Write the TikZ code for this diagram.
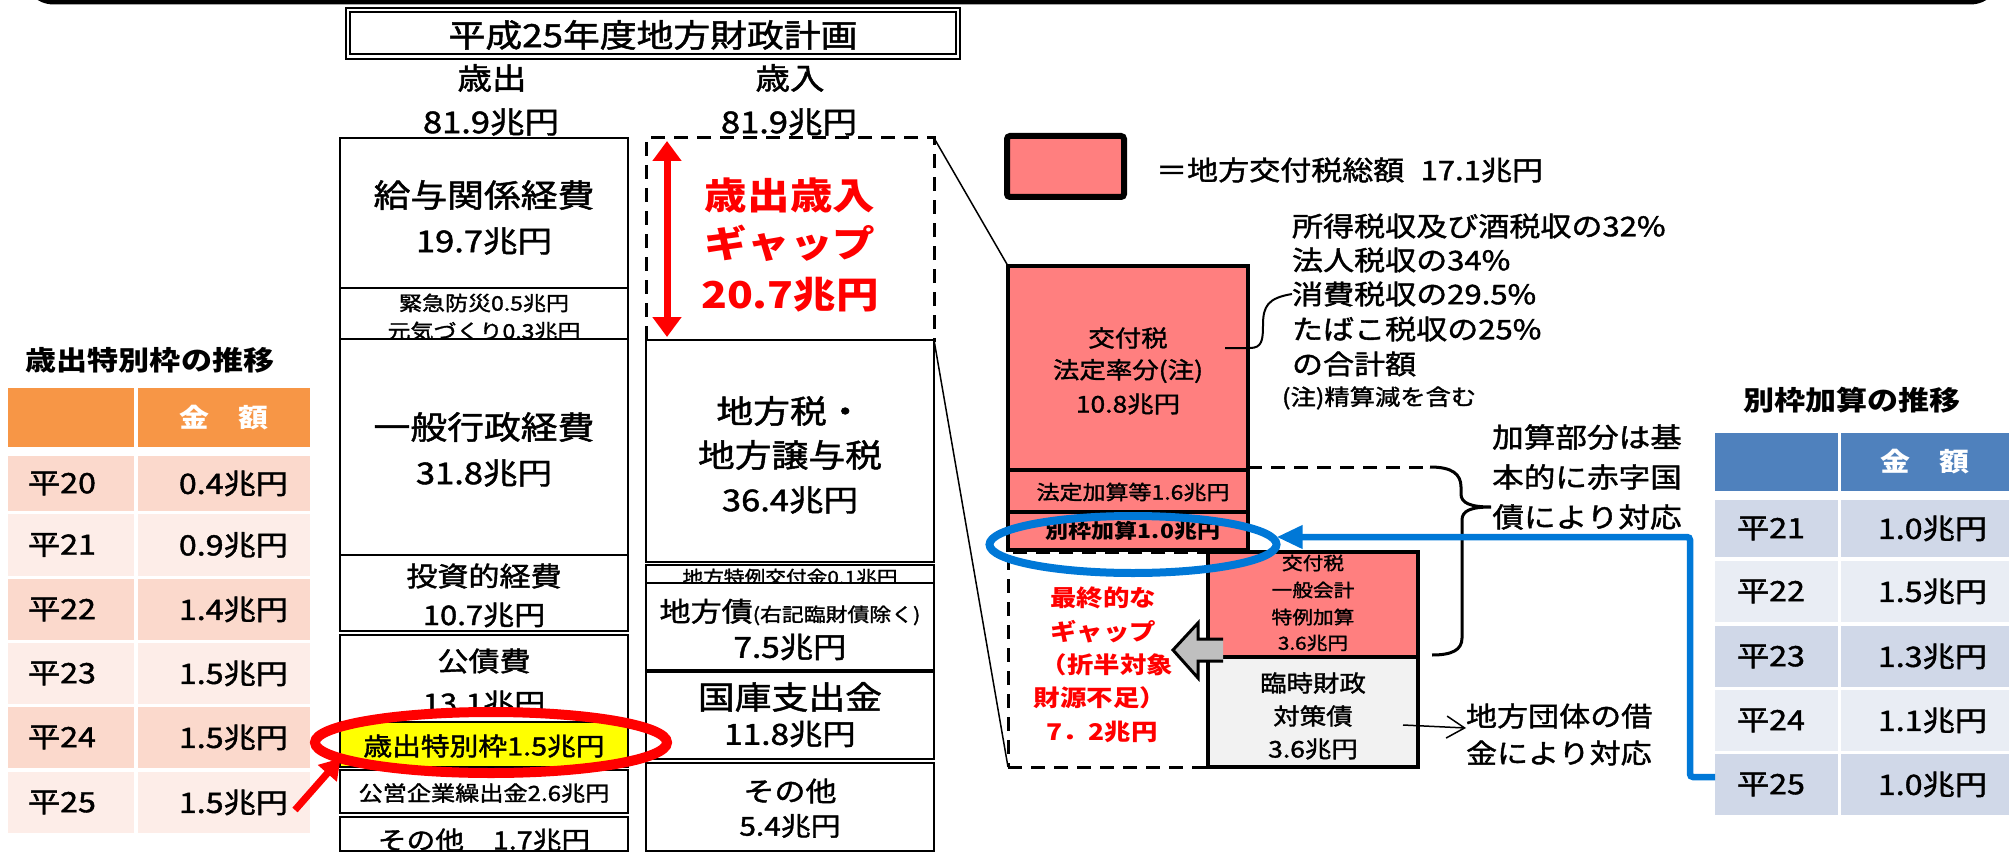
\documentclass[tikz,border=0pt]{standalone}
\usepackage{fontspec}
\setmainfont{Noto Sans CJK JP}[FakeStretch=1.15,UprightFeatures={FakeBold=1.5}]
\usetikzlibrary{arrows.meta,shapes.geometric}
\definecolor{salmon}{HTML}{FF7F7F}
\definecolor{hdrorange}{HTML}{F79646}
\definecolor{rowordark}{HTML}{FBD9CC}
\definecolor{roworlight}{HTML}{FDEDE8}
\definecolor{hdrblue}{HTML}{4F81BD}
\definecolor{rowbldark}{HTML}{D0D8E8}
\definecolor{rowbllight}{HTML}{E9EDF4}
\definecolor{paleg}{HTML}{F2F2F2}
\definecolor{arrgray}{HTML}{BFBFBF}
\definecolor{linkblue}{HTML}{0078D7}
\definecolor{gapred}{HTML}{FF0000}
\definecolor{hiyellow}{HTML}{FFFF00}
\newcommand{\fz}[1]{\fontsize{#1}{#1}\selectfont}
\newcommand{\mkbox}[6]{\node[#2,anchor=north west,minimum width={#5-#3},minimum height={#6-#4}] (#1) at (#3,#4) {};}
\begin{document}
\begin{tikzpicture}[x=1pt,y=-1pt,
  cell/.style={draw=black,line width=2.5pt,fill=white,inner sep=0pt,outer sep=0pt},
  pinkbox/.style={draw=black,line width=4.5pt,fill=salmon,inner sep=0pt,outer sep=0pt},
  dbox/.style={draw=black,line width=3pt,dash pattern=on 14pt off 9pt,inner sep=0pt,outer sep=0pt},
  tc/.style={draw=none,inner sep=0pt,outer sep=0pt},
  txt/.style={inner sep=0pt,outer sep=0pt},
  thinl/.style={line width=1.5pt},
  redtxt/.style={txt,text=gapred,font=\fz{37}\bfseries},
  fintxt/.style={txt,text=gapred,font=\fz{23}\bfseries},
]
\useasboundingbox (0,0) rectangle (2015,853);

% top frame edge
\draw[line width=5pt,rounded corners=30pt] (24,-40) -- (24,2) -- (2000,2) -- (2000,-40);

% title
\mkbox{tout}{draw,line width=2pt,inner sep=0pt,outer sep=0pt}{346}{8}{960}{59}
\mkbox{tin}{draw,line width=1.2pt,inner sep=0pt,outer sep=0pt}{350}{12}{956}{54}
\node[txt,font=\fz{32}] (title) at (653,35) {平成25年度地方財政計画};

\node[txt,font=\fz{30}] (exlab) at (492,78) {歳出};
\node[txt,font=\fz{30}] (extot) at (491,122) {81.9兆円};
\node[txt,font=\fz{30}] (rvlab) at (790,78) {歳入};
\node[txt,font=\fz{30}] (rvtot) at (789,122) {81.9兆円};

% expenditure column
\mkbox{e1}{cell}{340}{138}{628}{288}
\mkbox{e2}{cell}{340}{288}{628}{339}
\mkbox{e3}{cell}{340}{339}{628}{555}
\mkbox{e4}{cell}{340}{555}{628}{631}
\mkbox{e5}{cell}{340}{635}{628}{767}
\mkbox{e7}{cell}{340}{770}{628}{813}
\mkbox{e8}{cell}{340}{817}{628}{851}

\node[txt,font=\fz{32}] (t1a) at (484,195) {給与関係経費};
\node[txt,font=\fz{30}] (t1b) at (484,241) {19.7兆円};
\node[txt,font=\fz{20}] (t2a) at (484,303) {緊急防災0.5兆円};
\begin{scope}
\clip (341,289) rectangle (627,338);
\node[txt,font=\fz{20}] (t2b) at (484,331) {元気づくり0.3兆円};
\end{scope}
\node[txt,font=\fz{32}] (t3a) at (484,427) {一般行政経費};
\node[txt,font=\fz{30}] (t3b) at (484,473) {31.8兆円};
\node[txt,font=\fz{27}] (t4a) at (484,576) {投資的経費};
\node[txt,font=\fz{27}] (t4b) at (484,615) {10.7兆円};
\node[txt,font=\fz{27}] (t5a) at (484,661) {公債費};
\node[txt,font=\fz{27}] (t5b) at (484,703) {13.1兆円};
\mkbox{e6}{cell,fill=hiyellow}{340}{722}{628}{767}
\node[txt,font=\fz{25}] (t6) at (484,746) {歳出特別枠1.5兆円};
\node[txt,font=\fz{21}] (t7) at (484,793) {公営企業繰出金2.6兆円};
\node[txt,font=\fz{25}] (t8) at (484,840) {その他　1.7兆円};

% revenue column
\mkbox{gap}{dbox}{646}{138}{934}{340}
\mkbox{r1}{cell}{646}{340}{934}{562}
\mkbox{r2}{cell}{646}{565}{934}{583}
\mkbox{r3}{cell}{646}{583}{934}{670}
\mkbox{r4}{cell}{646}{672}{934}{759}
\mkbox{r5}{cell}{646}{763}{934}{851}

\coordinate (gt) at (667,141);
\coordinate (gb) at (667,337);
\draw[gapred,line width=7pt,{Triangle[length=20pt,width=28pt]}-{Triangle[length=20pt,width=28pt]}] (gt) -- (gb);
\node[redtxt] (g1) at (790,195) {歳出歳入};
\node[redtxt] (g2) at (790,243) {ギャップ};
\node[redtxt] (g3) at (790,295) {20.7兆円};

\node[txt,font=\fz{32}] (s1a) at (790,411) {地方税・};
\node[txt,font=\fz{32}] (s1b) at (790,455) {地方譲与税};
\node[txt,font=\fz{30}] (s1c) at (790,500) {36.4兆円};
\begin{scope}
\clip (647,566) rectangle (933,582);
\node[txt,font=\fz{18}] (s2) at (790,577) {地方特例交付金0.1兆円};
\end{scope}
\node[txt] (s3a) at (790,612) {\fz{27}地方債\fz{19}(右記臨財債除く)};
\node[txt,font=\fz{29}] (s3b) at (790,647) {7.5兆円};
\node[txt,font=\fz{32}] (s4a) at (790,697) {国庫支出金};
\node[txt,font=\fz{29}] (s4b) at (790,734) {11.8兆円};
\node[txt,font=\fz{27}] (s5a) at (790,791) {その他};
\node[txt,font=\fz{26}] (s5b) at (790,826) {5.4兆円};

% legend
\mkbox{leg}{draw=black,line width=6pt,fill=salmon,rounded corners=3pt,inner sep=0pt,outer sep=0pt}{1007}{136}{1124}{197}
\node[txt,anchor=west,font=\fz{27}] (legt) at (1156,170) {＝地方交付税総額\hspace{0.6em}17.1兆円};

% grant tax stack
\mkbox{kofu}{pinkbox}{1008}{266}{1248}{470}
\mkbox{hotei}{pinkbox}{1008}{470}{1248}{512}
\mkbox{betsu}{pinkbox}{1008}{512}{1248}{550}
\mkbox{fgap}{dbox}{1008}{552}{1232}{767}
\mkbox{tokurei}{pinkbox}{1208}{552}{1418}{657}
\mkbox{rinji}{pinkbox,fill=paleg,line width=4pt}{1208}{657}{1418}{767}

\draw[thinl] (gap.north east) -- (kofu.north west);
\draw[thinl] (gap.south east) -- (fgap.south west);

\node[txt,font=\fz{23}] (k1) at (1128,338) {交付税};
\node[txt,font=\fz{23}] (k2) at (1128,371) {法定率分(注)};
\node[txt,font=\fz{23}] (k3) at (1128,404) {10.8兆円};
\node[txt,font=\fz{20}] (h1) at (1133,492) {法定加算等1.6兆円};
\node[txt,font=\fz{20}\bfseries] (b1) at (1133,531) {別枠加算1.0兆円};
\node[txt,font=\fz{18}] (p1) at (1313,563) {交付税};
\node[txt,font=\fz{18}] (p2) at (1313,590) {一般会計};
\node[txt,font=\fz{18}] (p3) at (1313,617) {特例加算};
\node[txt,font=\fz{18}] (p4) at (1313,643) {3.6兆円};
\node[txt,font=\fz{23}] (q1) at (1313,683) {臨時財政};
\node[txt,font=\fz{23}] (q2) at (1313,716) {対策債};
\node[txt,font=\fz{23}] (q3) at (1313,749) {3.6兆円};

\node[fintxt] (f1) at (1103,598) {最終的な};
\node[fintxt] (f2) at (1103,632) {ギャップ};
\node[fintxt] (f3) at (1107,665) {（折半対象};
\node[fintxt] (f4) at (1100,698) {財源不足）};
\node[fintxt] (f5) at (1102,732) {7．2兆円};

% gray arrow
\draw[line width=3pt,fill=arrgray,line join=miter] (1223,639) -- (1198,639) -- (1198,623) -- (1173,650) -- (1198,678) -- (1198,661) -- (1223,661);

% notes
\node[txt,anchor=west,font=\fz{27}] (n1) at (1292,226) {所得税収及び酒税収の32\%};
\node[txt,anchor=west,font=\fz{27}] (n2) at (1292,260) {法人税収の34\%};
\node[txt,anchor=west,font=\fz{27}] (n3) at (1292,294) {消費税収の29.5\%};
\node[txt,anchor=west,font=\fz{27}] (n4) at (1292,329) {たばこ税収の25\%};
\node[txt,anchor=west,font=\fz{27}] (n5) at (1292,364) {の合計額};
\node[txt,anchor=west,font=\fz{22}] (n6) at (1282,398) {(注)精算減を含む};
\coordinate (cs) at (1225,348);
\draw[line width=2pt] (cs) -- (1250,348) .. controls (1262,348) and (1263,340) .. (1263,325) .. controls (1263,306) and (1268,298) .. (n3.west);

\coordinate (dstart) at (1248,467);
\coordinate (bt) at (1430,467);
\draw[line width=3pt,dash pattern=on 14pt off 9pt] (dstart) -- (bt);
\draw[line width=3pt] (bt) .. controls (1452,467) and (1461,474) .. (1461,487) -- (1461,494) .. controls (1461,503) and (1470,507) .. (1491,507) .. controls (1470,507) and (1462,511) .. (1462,520) -- (1462,638) .. controls (1462,650) and (1452,655) .. (1432,655);
\node[txt,font=\fz{27.5}] (a1) at (1587,437) {加算部分は基};
\node[txt,font=\fz{27.5}] (a2) at (1587,477) {本的に赤字国};
\node[txt,font=\fz{27.5}] (a3) at (1587,517) {債により対応};

\node[txt,anchor=west,font=\fz{27}] (d1) at (1466,716) {地方団体の借};
\node[txt,anchor=west,font=\fz{27}] (d2) at (1466,753) {金により対応};
\coordinate (ds) at (1403,725);
\draw[line width=1.5pt,-{Straight Barb[length=18pt,width=22pt]}] (ds) -- (d1.west |- 0,728);

% left table
\node[txt,font=\fz{27}\bfseries] (ltt) at (150,360) {歳出特別枠の推移};
\mkbox{lh1}{tc,fill=hdrorange}{8}{388}{134}{447}
\mkbox{lh2}{tc,fill=hdrorange}{138}{388}{310}{447}
\node[txt,text=white,font=\fz{26}\bfseries] (lht) at (224,418) {金　額};
\foreach \n/\ya/\yb/\cl/\lb/\vl in {1/456/511/rowordark/平20/0.4兆円,2/514/576/roworlight/平21/0.9兆円,3/579/640/rowordark/平22/1.4兆円,4/643/704/roworlight/平23/1.5兆円,5/707/768/rowordark/平24/1.5兆円,6/772/833/roworlight/平25/1.5兆円}{
  \mkbox{la\n}{tc,fill=\cl}{8}{\ya}{134}{\yb}
  \mkbox{lb\n}{tc,fill=\cl}{138}{\ya}{310}{\yb}
  \node[txt,anchor=west,font=\fz{28}] (lal\n) at (28,{(\ya+\yb)/2}) {\lb};
  \node[txt,anchor=east,font=\fz{28}] (lbl\n) at (288,{(\ya+\yb)/2}) {\vl};
}

% right table
\node[txt,font=\fz{27}\bfseries] (rtt) at (1852,400) {別枠加算の推移};
\mkbox{rh1}{tc,fill=hdrblue}{1715}{433}{1838}{491}
\mkbox{rh2}{tc,fill=hdrblue}{1841}{433}{2009}{491}
\node[txt,text=white,font=\fz{26}\bfseries] (rht) at (1925,462) {金　額};
\foreach \n/\ya/\yb/\cl/\lb/\vl in {1/500/557/rowbldark/平21/1.0兆円,2/561/622/rowbllight/平22/1.5兆円,3/626/687/rowbldark/平23/1.3兆円,4/690/751/rowbllight/平24/1.1兆円,5/754/815/rowbldark/平25/1.0兆円}{
  \mkbox{ra\n}{tc,fill=\cl}{1715}{\ya}{1838}{\yb}
  \mkbox{rb\n}{tc,fill=\cl}{1841}{\ya}{2009}{\yb}
  \node[txt,anchor=west,font=\fz{28}] (ral\n) at (1737,{(\ya+\yb)/2}) {\lb};
  \node[txt,anchor=east,font=\fz{28}] (rbl\n) at (1987,{(\ya+\yb)/2}) {\vl};
}

% highlight ellipses and links
\node[ellipse,draw=gapred,line width=10pt,minimum width=352,minimum height=61,inner sep=0pt,outer sep=0pt] (rell) at (491,742.5) {};
\coordinate (rast) at (295,810);
\draw[gapred,line width=7pt,-{Triangle[length=20pt,width=24pt]}] (rast) -- (rell.186);

\node[ellipse,draw=linkblue,line width=8pt,minimum width=287,minimum height=57,inner sep=0pt,outer sep=0pt] (bell) at (1133,544.5) {};
\coordinate (bst) at (1715,777);
\coordinate (btn) at (1690,537);
\draw[linkblue,line width=6.5pt,rounded corners=3pt,-{Triangle[length=26pt,width=22pt]}] (bst) -| (btn) -- (btn -| bell.east);
\end{tikzpicture}
\end{document}
